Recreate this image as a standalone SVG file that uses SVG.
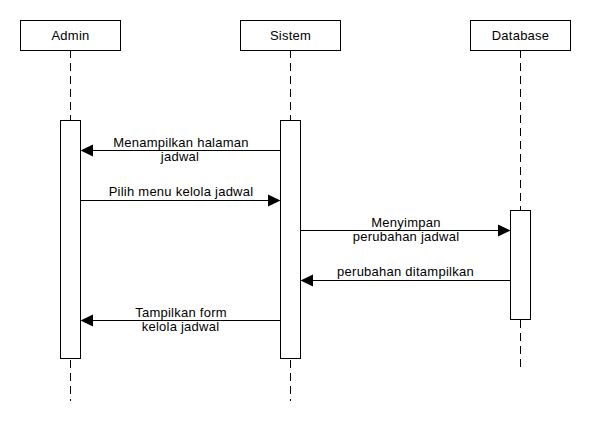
<svg xmlns="http://www.w3.org/2000/svg" width="590" height="440" viewBox="0 0 590 440">
<defs>
<style>
.box{fill:#fff;stroke:#000;stroke-width:1}
.life{stroke:#000;stroke-width:1;stroke-dasharray:8 5;fill:none}
.msg{stroke:#000;stroke-width:1;fill:none}
.head{fill:#000;stroke:none}
text{font-family:"Liberation Sans",Arial,sans-serif;font-size:13px;letter-spacing:0.25px;fill:#000;text-anchor:middle}
</style>
</defs>
<rect width="590" height="440" fill="#fff"/>
<g id="lifelines">
<line class="life" x1="70.5" y1="50" x2="70.5" y2="120"/>
<line class="life" x1="70.5" y1="360" x2="70.5" y2="401"/>
<line class="life" x1="290.5" y1="50" x2="290.5" y2="120"/>
<line class="life" x1="290.5" y1="360" x2="290.5" y2="401"/>
<line class="life" x1="520.5" y1="50" x2="520.5" y2="210"/>
<line class="life" x1="520.5" y1="320" x2="520.5" y2="370"/>
</g>
<g id="admin">
<rect class="box" x="20.5" y="20.5" width="100" height="30"/>
<text x="70.5" y="39.5">Admin</text>
<rect class="box" x="60.5" y="120.5" width="20" height="238"/>
</g>
<g id="sistem">
<rect class="box" x="240.5" y="20.5" width="100" height="30"/>
<text x="290.5" y="39.5">Sistem</text>
<rect class="box" x="280.5" y="120.5" width="20" height="238"/>
</g>
<g id="database">
<rect class="box" x="470.5" y="20.5" width="100" height="30"/>
<text x="520.5" y="39.5">Database</text>
<rect class="box" x="510.5" y="210.5" width="20" height="109"/>
</g>
<g id="connectors">
<line class="msg" x1="280.5" y1="150.5" x2="92" y2="150.5"/>
<polygon class="head" points="80.5,150.5 93,144.5 93,156.5"/>
<text x="181" y="146.5">Menampilkan halaman</text>
<text x="180" y="160.5">jadwal</text>

<line class="msg" x1="80.5" y1="200.5" x2="269" y2="200.5"/>
<polygon class="head" points="280.5,200.5 268,194.5 268,206.5"/>
<text x="181" y="195.5">Pilih menu kelola jadwal</text>

<line class="msg" x1="300.5" y1="230.5" x2="499" y2="230.5"/>
<polygon class="head" points="510.5,230.5 498,224.5 498,236.5"/>
<text x="406" y="226.5">Menyimpan</text>
<text x="406" y="241">perubahan jadwal</text>

<line class="msg" x1="510.5" y1="280.5" x2="312" y2="280.5"/>
<polygon class="head" points="300.5,280.5 313,274.5 313,286.5"/>
<text x="405.5" y="275.5">perubahan ditampilkan</text>

<line class="msg" x1="280.5" y1="320.5" x2="92" y2="320.5"/>
<polygon class="head" points="80.5,320.5 93,314.5 93,326.5"/>
<text x="181" y="316.5">Tampilkan form</text>
<text x="180.5" y="331">kelola jadwal</text>
</g>
</svg>
